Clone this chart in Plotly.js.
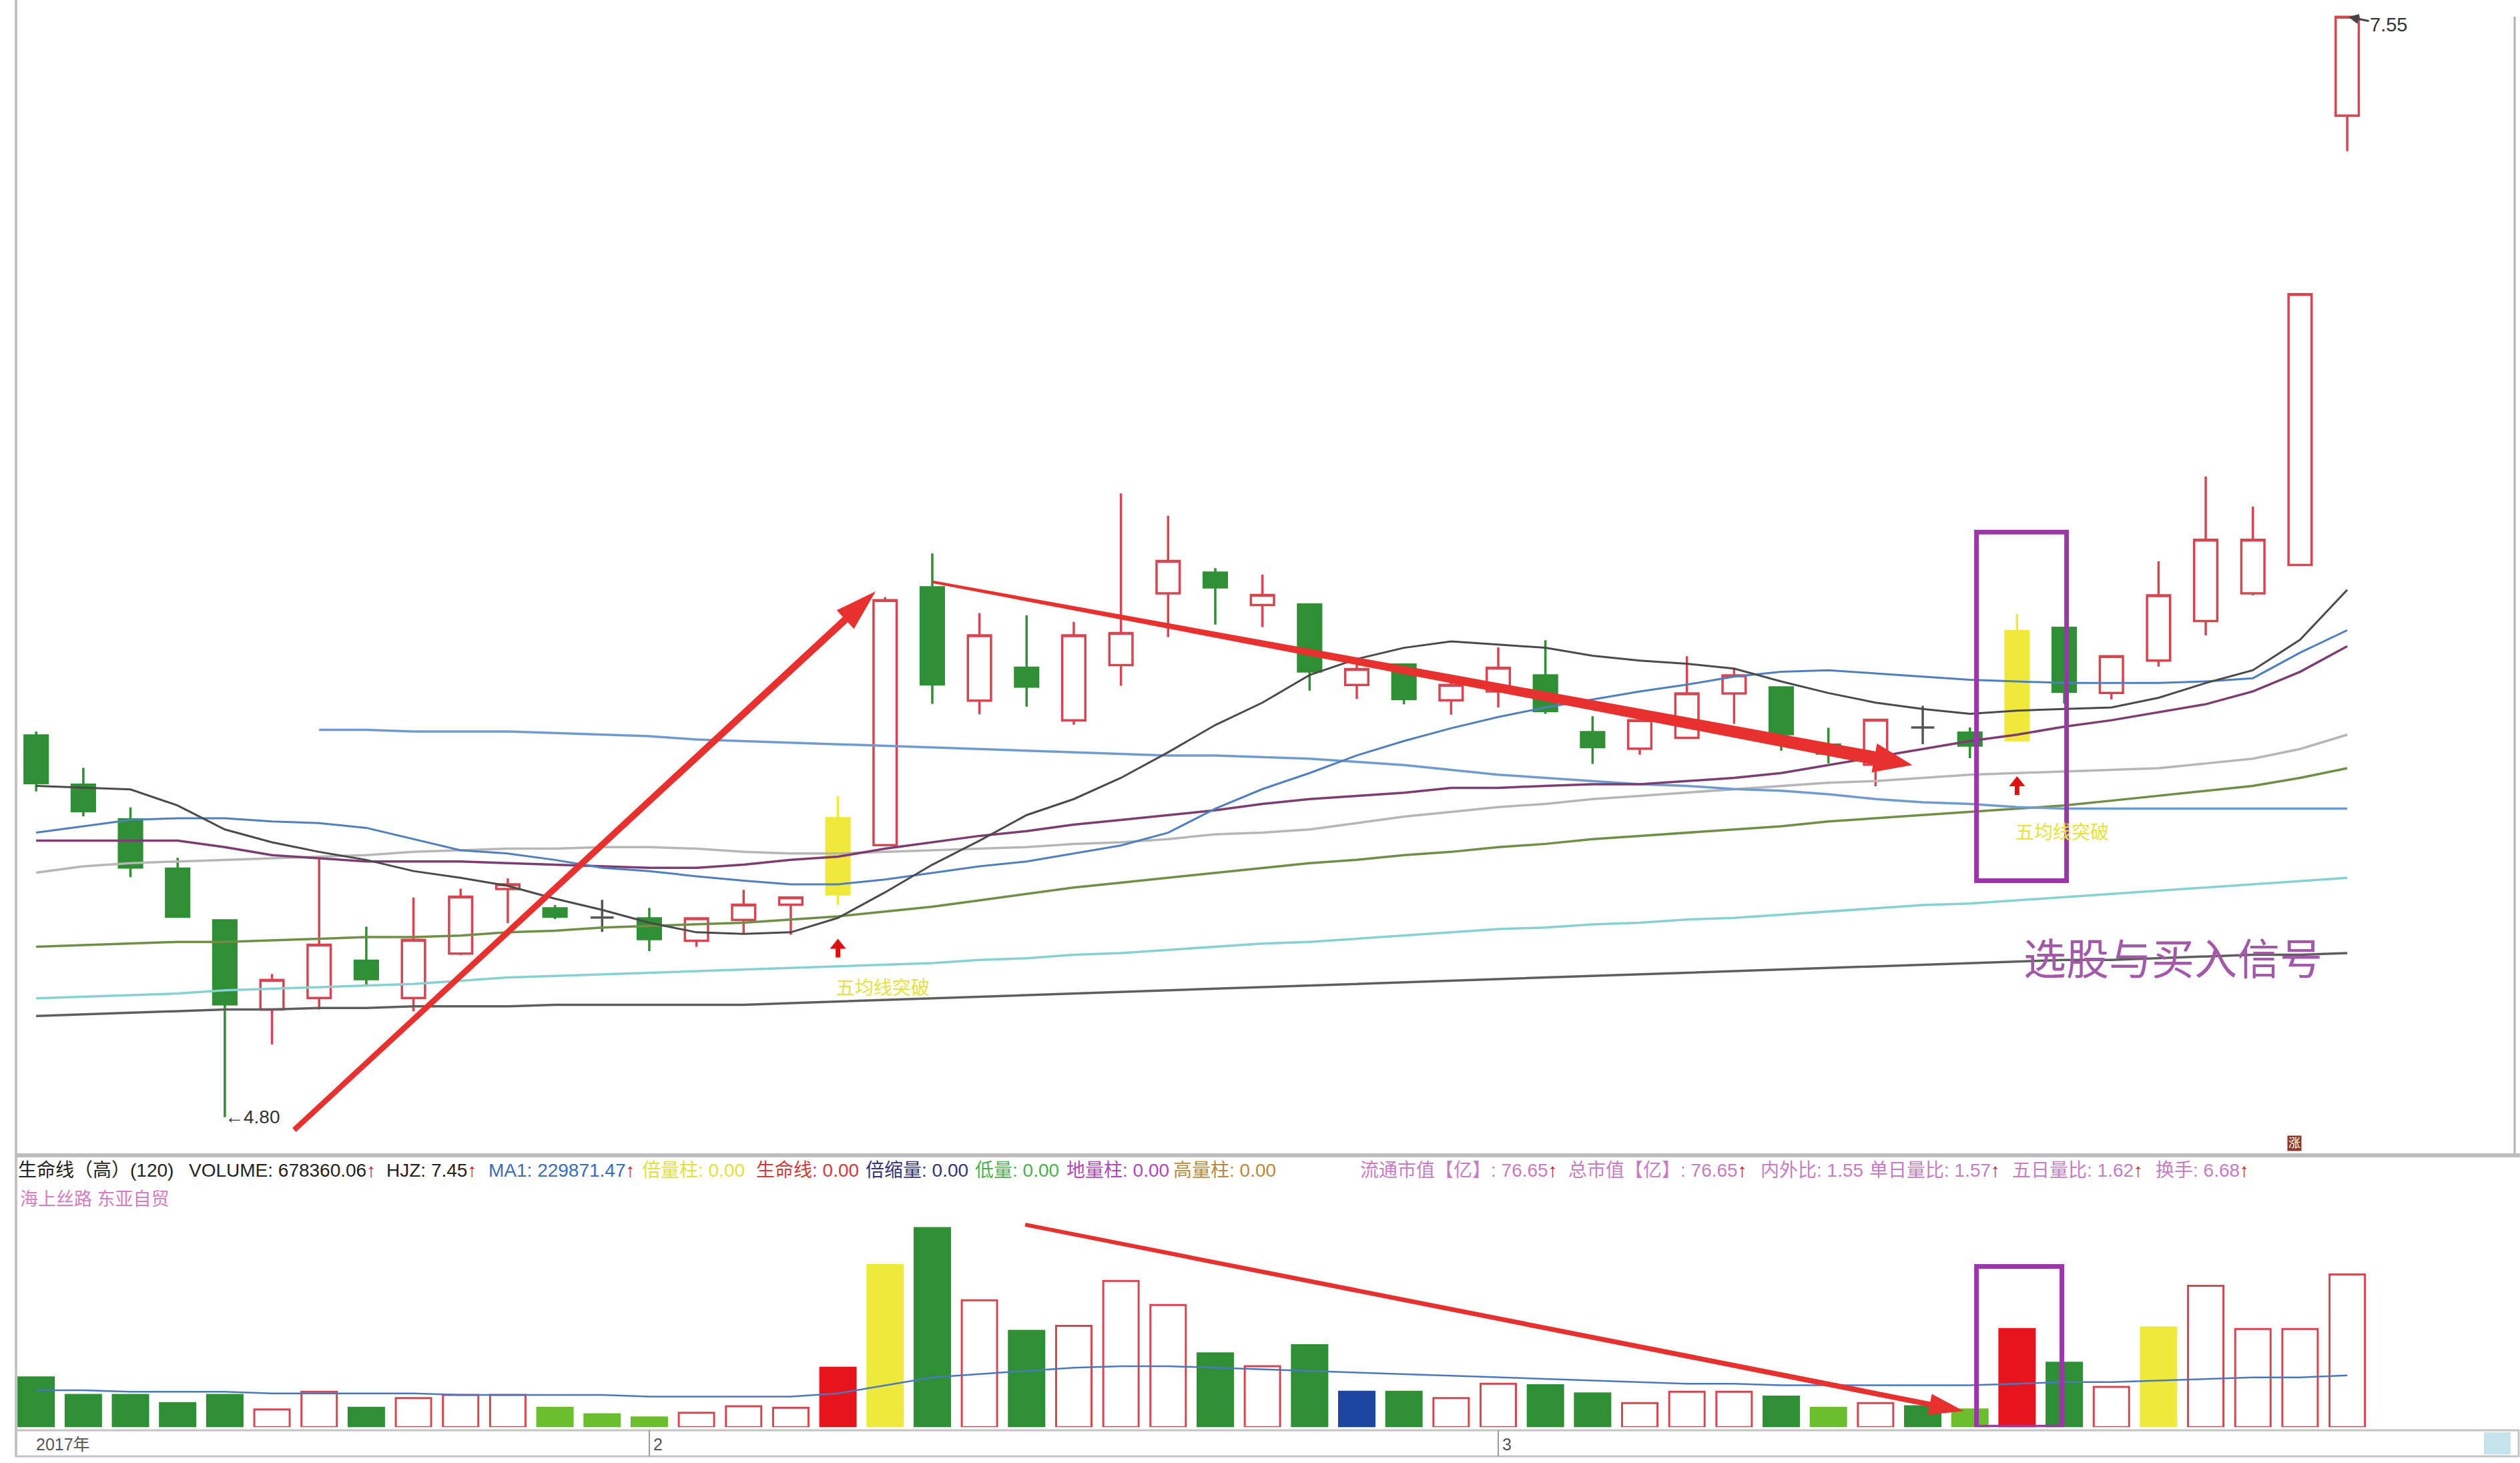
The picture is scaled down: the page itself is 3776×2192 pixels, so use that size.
<!DOCTYPE html>
<html>
<head>
<meta charset="utf-8">
<script src="https://cdn.plot.ly/plotly-3.0.1.min.js"></script>
<style>
  html, body { margin: 0; padding: 0; background: #fff; }
  #chart { width: 3776px; height: 2192px; }
</style>
</head>
<body>
<div id="chart"></div>
<script>
// daily K-line, Jan - Mar 2017 (50 sessions)
const open  = [5.754, 5.631, 5.544, 5.421, 5.292, 5.069, 5.098, 5.191, 5.098, 5.209,
               5.370, 5.322, 5.299, 5.297, 5.241, 5.293, 5.331, 5.357, 5.480, 6.124,
               5.841, 5.923, 5.792, 5.930, 6.109, 6.161, 6.080, 6.081, 5.880, 5.931,
               5.842, 5.864, 5.904, 5.762, 5.721, 5.748, 5.859, 5.874, 5.731, 5.681,
               5.774, 5.761, 5.742, 6.023, 5.860, 5.941, 6.040, 6.109, 6.180, 7.303];
const high  = [5.764, 5.673, 5.574, 5.448, 5.292, 5.158, 5.445, 5.276, 5.349, 5.371,
               5.397, 5.330, 5.343, 5.323, 5.297, 5.368, 5.349, 5.602, 6.100, 6.209,
               6.060, 6.054, 6.038, 6.359, 6.303, 6.172, 6.156, 6.081, 5.949, 5.931,
               5.898, 5.974, 5.992, 5.802, 5.792, 5.952, 5.923, 5.874, 5.773, 5.793,
               5.828, 5.774, 6.058, 6.023, 5.955, 6.189, 6.401, 6.326, 6.857, 7.550];
const low   = [5.614, 5.552, 5.400, 5.298, 4.800, 4.982, 5.069, 5.131, 5.065, 5.205,
               5.285, 5.295, 5.263, 5.215, 5.226, 5.260, 5.256, 5.331, 5.480, 5.833,
               5.807, 5.826, 5.781, 5.878, 6.000, 6.031, 6.025, 5.866, 5.845, 5.832,
               5.806, 5.824, 5.808, 5.683, 5.706, 5.745, 5.783, 5.716, 5.684, 5.627,
               5.732, 5.697, 5.742, 5.834, 5.844, 5.926, 6.004, 6.104, 6.180, 7.214];
const close = [5.635, 5.565, 5.424, 5.301, 5.082, 5.143, 5.231, 5.145, 5.243, 5.351,
               5.382, 5.301, 5.299, 5.245, 5.297, 5.331, 5.349, 5.547, 6.092, 5.882,
               6.004, 5.876, 6.004, 6.010, 6.190, 6.124, 6.105, 5.914, 5.920, 5.845,
               5.880, 5.923, 5.815, 5.725, 5.792, 5.859, 5.904, 5.757, 5.709, 5.793,
               5.774, 5.729, 6.015, 5.863, 5.952, 6.104, 6.243, 6.243, 6.857, 7.550];

// days flagged by the 五均线突破 signal (yellow candles)
const signalDays = [17, 42];

// moving averages drawn on the price panel
const maShort  = [5.628, 5.623, 5.619, 5.579, 5.519, 5.487, 5.463, 5.443, 5.415, 5.398,
                  5.378, 5.346, 5.318, 5.286, 5.262, 5.258, 5.262, 5.298, 5.362, 5.431,
                  5.491, 5.555, 5.595, 5.648, 5.712, 5.780, 5.836, 5.905, 5.945, 5.973,
                  5.989, 5.981, 5.973, 5.953, 5.941, 5.933, 5.921, 5.889, 5.860, 5.836,
                  5.820, 5.808, 5.816, 5.820, 5.824, 5.848, 5.885, 5.917, 5.993, 6.118];
const maBlue   = [5.511, 5.527, 5.543, 5.547, 5.547, 5.539, 5.535, 5.523, 5.495, 5.467,
                  5.459, 5.443, 5.423, 5.415, 5.402, 5.391, 5.382, 5.382, 5.394, 5.411,
                  5.427, 5.439, 5.459, 5.479, 5.511, 5.571, 5.620, 5.660, 5.704, 5.740,
                  5.772, 5.800, 5.824, 5.844, 5.864, 5.881, 5.901, 5.913, 5.917, 5.909,
                  5.901, 5.893, 5.889, 5.885, 5.885, 5.885, 5.889, 5.897, 5.961, 6.017];
const maPurple = [5.491, 5.491, 5.491, 5.491, 5.475, 5.455, 5.447, 5.439, 5.439, 5.439,
                  5.435, 5.431, 5.427, 5.423, 5.423, 5.431, 5.443, 5.451, 5.471, 5.487,
                  5.503, 5.515, 5.531, 5.543, 5.555, 5.567, 5.583, 5.595, 5.603, 5.611,
                  5.623, 5.623, 5.628, 5.632, 5.632, 5.640, 5.648, 5.660, 5.680, 5.700,
                  5.720, 5.740, 5.756, 5.776, 5.792, 5.812, 5.832, 5.864, 5.913, 5.977];
const maGray   = [5.411, 5.427, 5.435, 5.439, 5.443, 5.447, 5.451, 5.455, 5.463, 5.467,
                  5.471, 5.471, 5.475, 5.475, 5.471, 5.463, 5.459, 5.459, 5.463, 5.467,
                  5.471, 5.475, 5.483, 5.487, 5.495, 5.507, 5.511, 5.519, 5.535, 5.551,
                  5.563, 5.575, 5.583, 5.595, 5.603, 5.611, 5.620, 5.628, 5.636, 5.640,
                  5.648, 5.656, 5.660, 5.664, 5.668, 5.672, 5.684, 5.696, 5.720, 5.756];
const maOlive  = [5.226, 5.230, 5.234, 5.238, 5.238, 5.242, 5.246, 5.250, 5.250, 5.254,
                  5.262, 5.266, 5.274, 5.278, 5.282, 5.286, 5.294, 5.302, 5.314, 5.326,
                  5.342, 5.358, 5.374, 5.386, 5.398, 5.411, 5.423, 5.435, 5.443, 5.455,
                  5.463, 5.475, 5.483, 5.495, 5.503, 5.511, 5.519, 5.527, 5.539, 5.547,
                  5.555, 5.563, 5.571, 5.579, 5.591, 5.603, 5.615, 5.628, 5.648, 5.672];
const maLong   = [null, null, null, null, null, null, 5.768, 5.768, 5.764, 5.764,
                  5.764, 5.760, 5.756, 5.752, 5.744, 5.740, 5.736, 5.732, 5.728, 5.724,
                  5.720, 5.716, 5.712, 5.708, 5.704, 5.704, 5.700, 5.696, 5.688, 5.680,
                  5.668, 5.656, 5.648, 5.640, 5.632, 5.628, 5.620, 5.616, 5.607, 5.595,
                  5.587, 5.583, 5.575, 5.571, 5.571, 5.571, 5.571, 5.571, 5.571, 5.571];
const maCyan   = [5.097, 5.101, 5.105, 5.109, 5.117, 5.121, 5.125, 5.129, 5.133, 5.141,
                  5.149, 5.153, 5.157, 5.161, 5.165, 5.169, 5.173, 5.177, 5.181, 5.185,
                  5.193, 5.197, 5.206, 5.210, 5.218, 5.226, 5.234, 5.238, 5.246, 5.254,
                  5.262, 5.270, 5.274, 5.282, 5.286, 5.294, 5.298, 5.306, 5.314, 5.322,
                  5.330, 5.334, 5.342, 5.350, 5.358, 5.366, 5.374, 5.382, 5.390, 5.398];
const maBase   = [5.053, 5.057, 5.061, 5.065, 5.069, 5.069, 5.073, 5.073, 5.077, 5.077,
                  5.077, 5.081, 5.081, 5.081, 5.081, 5.081, 5.085, 5.089, 5.093, 5.097,
                  5.101, 5.105, 5.109, 5.113, 5.117, 5.121, 5.125, 5.129, 5.133, 5.137,
                  5.141, 5.145, 5.149, 5.153, 5.157, 5.161, 5.165, 5.169, 5.173, 5.177,
                  5.181, 5.185, 5.189, 5.193, 5.193, 5.197, 5.201, 5.206, 5.206, 5.210];

// volume panel
const volume = [221000, 143000, 143000, 107000, 143000, 79000, 157000, 86000, 129000, 143000,
                143000, 86000, 57000, 43000, 64000, 93000, 86000, 264000, 721000, 885000,
                564000, 428000, 450000, 650000, 543000, 328000, 271000, 364000, 157000, 157000,
                129000, 193000, 186000, 150000, 107000, 157000, 157000, 136000, 86000, 107000,
                93000, 79000, 436000, 286000, 179000, 443000, 628000, 436000, 436000, 678360.06];
const volKind = ['down','down','down','down','down','up','up','down','up','up',
                 'up','low','low','low','up','up','up','life','double','down',
                 'up','down','up','up','up','down','up','down','shrink','down',
                 'up','up','down','down','up','up','up','down','low','up',
                 'down','low','life','down','up','double','up','up','up','up'];
const volMA1 = [164000, 164000, 157000, 157000, 157000, 150000, 150000, 150000, 150000, 143000,
                143000, 143000, 143000, 136000, 136000, 136000, 136000, 150000, 186000, 221000,
                236000, 250000, 264000, 271000, 271000, 264000, 257000, 250000, 243000, 236000,
                229000, 221000, 214000, 207000, 200000, 193000, 193000, 186000, 186000, 186000,
                186000, 186000, 193000, 200000, 200000, 207000, 214000, 221000, 221000, 229871.47];

// month boundaries on the time axis
const monthStart = [13, 31];
const monthLabel = ['2', '3'];

const W = 3776, H = 2192;
const px = v => v / W;
const py = v => 1 - v / H;

const RED = '#d64550', GREEN = '#2f8f35', YELLOW = '#f0e83a', ARROW = '#e8302e', PURPLE = '#9b36a8';
const FONT = '"Liberation Sans", "Noto Sans CJK SC", sans-serif';

const xRange = [-0.427, 52.55];
const xDomain = [px(24), px(3768)];
const yRange = [4.708, 7.592];
const yDomain = [py(1729), 1];
const y2Range = [0, 1003300];
const y2Domain = [py(2138.3), py(1800)];

// pixels per data unit, used to build the drawn arrows
const sx = (xDomain[1] - xDomain[0]) * W / (xRange[1] - xRange[0]);
const sy = (yDomain[1] - yDomain[0]) * H / (yRange[1] - yRange[0]);
const sy2 = (y2Domain[1] - y2Domain[0]) * H / (y2Range[1] - y2Range[0]);

// tapered arrow polygon: widths and head sizes in pixels
function arrowPath(x0, y0, x1, y1, yScale, w0, w1, headLen, headW) {
  const X0 = x0 * sx, Y0 = y0 * yScale, X1 = x1 * sx, Y1 = y1 * yScale;
  const L = Math.hypot(X1 - X0, Y1 - Y0);
  const ux = (X1 - X0) / L, uy = (Y1 - Y0) / L;
  const nx = -uy, ny = ux;
  const BX = X1 - ux * headLen, BY = Y1 - uy * headLen;
  const pts = [
    [X0 + nx * w0 / 2, Y0 + ny * w0 / 2],
    [BX + nx * w1 / 2, BY + ny * w1 / 2],
    [BX + nx * headW / 2, BY + ny * headW / 2],
    [X1, Y1],
    [BX - nx * headW / 2, BY - ny * headW / 2],
    [BX - nx * w1 / 2, BY - ny * w1 / 2],
    [X0 - nx * w0 / 2, Y0 - ny * w0 / 2]
  ];
  return 'M' + pts.map(p => (p[0] / sx).toFixed(4) + ',' + (p[1] / yScale).toFixed(6)).join(' L') + ' Z';
}

const days = open.map((_, i) => i);
const isSignal = i => signalDays.includes(i);
const isDoji = i => open[i] === close[i];

function pick(test) {
  const idx = days.filter(test);
  return {
    x: idx,
    open: idx.map(i => open[i]),
    high: idx.map(i => high[i]),
    low: idx.map(i => low[i]),
    close: idx.map(i => close[i])
  };
}

const candleBase = { type: 'candlestick', xaxis: 'x', yaxis: 'y', whiskerwidth: 0, hoverinfo: 'skip' };

const traces = [];

// moving averages first, candles drawn over them
const maLines = [
  [maBase, '#5e5e5e', 3.5],
  [maCyan, '#86d2d2', 3.5],
  [maOlive, '#6e8f45', 3.5],
  [maGray, '#b6b6b6', 3.5],
  [maLong, '#6f9bd0', 3.5],
  [maPurple, '#7d3c72', 3.5],
  [maBlue, '#4f7fbf', 3],
  [maShort, '#4a4a4a', 3]
];
maLines.forEach(([vals, color, width]) => {
  traces.push({
    type: 'scatter', mode: 'lines', x: days, y: vals, xaxis: 'x', yaxis: 'y',
    line: { color: color, width: width }, hoverinfo: 'skip', connectgaps: false
  });
});

traces.push(Object.assign({}, candleBase, pick(i => !isSignal(i) && !isDoji(i)), {
  increasing: { line: { color: RED, width: 3.5 }, fillcolor: '#ffffff' },
  decreasing: { line: { color: GREEN, width: 3.5 }, fillcolor: GREEN }
}));
traces.push(Object.assign({}, candleBase, pick(i => isSignal(i)), {
  increasing: { line: { color: YELLOW, width: 3.5 }, fillcolor: YELLOW },
  decreasing: { line: { color: YELLOW, width: 3.5 }, fillcolor: YELLOW }
}));
traces.push(Object.assign({}, candleBase, pick(i => isDoji(i)), {
  increasing: { line: { color: '#555555', width: 3.5 }, fillcolor: '#555555' },
  decreasing: { line: { color: '#555555', width: 3.5 }, fillcolor: '#555555' }
}));

// volume bars
const kindFill = { down: GREEN, up: '#ffffff', low: '#6cbf2c', life: '#e8141c', double: '#eeea3c', shrink: '#1c46a0' };
const kindLine = { down: GREEN, up: RED, low: '#6cbf2c', life: '#e8141c', double: '#eeea3c', shrink: '#1c46a0' };
traces.push({
  type: 'bar', x: days, y: volume, xaxis: 'x2', yaxis: 'y2',
  marker: {
    color: volKind.map(k => kindFill[k]),
    line: { color: volKind.map(k => kindLine[k]), width: 3 }
  },
  hoverinfo: 'skip'
});
traces.push({
  type: 'scatter', mode: 'lines', x: days, y: volMA1, xaxis: 'x2', yaxis: 'y2',
  line: { color: '#4a78c0', width: 2.5 }, hoverinfo: 'skip'
});

// info bar
const up = '<span style="color:#d01818">↑</span>';
const last = volume.length - 1;
const infoRow = [
  [25, '生命线（高）(120)', '#222222'],
  [281, 'VOLUME: ' + volume[last].toFixed(2) + up, '#222222'],
  [577, 'HJZ: 7.45' + up, '#222222'],
  [730, 'MA1: ' + volMA1[last].toFixed(2) + up, '#3a6cb8'],
  [960, '倍量柱: 0.00', '#e4e03a'],
  [1131, '生命线: 0.00', '#d03a3a'],
  [1295, '倍缩量: 0.00', '#33337a'],
  [1459, '低量: 0.00', '#4cb04c'],
  [1596, '地量柱: 0.00', '#b048b8'],
  [1756, '高量柱: 0.00', '#b88a3a'],
  [2036, '流通市值【亿】: 76.65' + up, '#c77cc4'],
  [2348, '总市值【亿】: 76.65' + up, '#c77cc4'],
  [2636, '内外比: 1.55', '#c77cc4'],
  [2799, '单日量比: 1.57' + up, '#c77cc4'],
  [3013, '五日量比: 1.62' + up, '#c77cc4'],
  [3228, '换手: 6.68' + up, '#c77cc4']
];

const annotations = infoRow.map(([x, text, color]) => ({
  xref: 'paper', yref: 'paper', x: px(x), y: py(1753), xanchor: 'left', yanchor: 'middle',
  text: text, showarrow: false, font: { family: FONT, size: 28, color: color }
}));

annotations.push(
  { xref: 'paper', yref: 'paper', x: px(28), y: py(1797), xanchor: 'left', yanchor: 'middle',
    text: '海上丝路 东亚自贸', showarrow: false, font: { family: FONT, size: 27, color: '#d77cc0' } },
  // price extremes
  { xref: 'x', yref: 'y', x: 4, y: low[4], xanchor: 'left', yanchor: 'middle', xshift: -2,
    text: '←' + low[4].toFixed(2), showarrow: false, font: { family: FONT, size: 28, color: '#333333' } },
  { xref: 'x', yref: 'y', x: 49, y: high[49], ax: 62, ay: 12, text: high[49].toFixed(2),
    showarrow: true, arrowhead: 2, arrowsize: 1, arrowwidth: 3, arrowcolor: '#444444', standoff: 2,
    font: { family: FONT, size: 29, color: '#333333' } },
  // signal captions
  { xref: 'x', yref: 'y', x: signalDays[0] + 0.95, y: 5.122, text: '五均线突破', showarrow: false,
    font: { family: FONT, size: 28, color: '#e8e23a' } },
  { xref: 'x', yref: 'y', x: signalDays[1] + 0.95, y: 5.511, text: '五均线突破', showarrow: false,
    font: { family: FONT, size: 28, color: '#e8e23a' } },
  { xref: 'paper', yref: 'paper', x: px(3256), y: py(1438), xanchor: 'center', yanchor: 'middle',
    text: '选股与买入信号', showarrow: false, font: { family: FONT, size: 64, color: '#a458aa' } },
  // time axis
  { xref: 'paper', yref: 'paper', x: px(52), y: py(2164), xanchor: 'left', yanchor: 'middle',
    text: '2017年', showarrow: false, font: { family: FONT, size: 25, color: '#555555' } },
  { xref: 'paper', yref: 'paper', x: px(3438), y: py(1713), xanchor: 'center', yanchor: 'middle',
    text: '涨', showarrow: false, font: { family: FONT, size: 18, color: '#ffffff' }, bgcolor: '#8b3a2a' }
);
monthStart.forEach((d, k) => {
  annotations.push({ xref: 'x2', yref: 'paper', x: d, y: py(2164), xanchor: 'left', yanchor: 'middle',
    xshift: 4, text: monthLabel[k], showarrow: false, font: { family: FONT, size: 25, color: '#555555' } });
});

const noLine = { width: 0 };
const shapes = [
  // frame
  { type: 'line', xref: 'paper', yref: 'paper', x0: px(24), x1: px(24), y0: py(0), y1: py(2182),
    line: { color: '#c4c4c4', width: 4 } },
  { type: 'line', xref: 'paper', yref: 'paper', x0: px(3768), x1: px(3768), y0: py(25), y1: py(1729),
    line: { color: '#b0b0b0', width: 3 } },
  { type: 'line', xref: 'paper', yref: 'paper', x0: px(24), x1: 1, y0: py(1731), y1: py(1731),
    line: { color: '#bdbdbd', width: 6 } },
  { type: 'rect', xref: 'paper', yref: 'paper', x0: px(24), x1: px(3774), y0: py(2143), y1: py(2182),
    line: { color: '#c4c4c4', width: 3 }, fillcolor: 'rgba(0,0,0,0)' },
  { type: 'rect', xref: 'paper', yref: 'paper', x0: px(3722), x1: px(3762), y0: py(2146), y1: py(2179),
    line: noLine, fillcolor: '#c6e4ec' },
  // selection boxes
  { type: 'rect', xref: 'x', yref: 'y', x0: 41.14, x1: 43.05, y0: 5.391, y1: 6.262,
    line: { color: PURPLE, width: 7 }, fillcolor: 'rgba(0,0,0,0)' },
  { type: 'rect', xref: 'x2', yref: 'y2', x0: 41.14, x1: 42.95, y0: 0, y1: 714100,
    line: { color: PURPLE, width: 7 }, fillcolor: 'rgba(0,0,0,0)' },
  // hand-drawn trend arrows
  { type: 'path', xref: 'x', yref: 'y', path: arrowPath(5.47, 4.768, 17.80, 6.114, sy, 8, 11, 62, 38),
    fillcolor: ARROW, line: noLine },
  { type: 'path', xref: 'x', yref: 'y', path: arrowPath(19.0, 6.138, 39.78, 5.680, sy, 4, 20, 58, 44),
    fillcolor: ARROW, line: noLine },
  { type: 'path', xref: 'x2', yref: 'y2', path: arrowPath(20.97, 899800, 40.87, 71400, sy2, 6, 8, 52, 32),
    fillcolor: ARROW, line: noLine },
  // signal arrows under the yellow candles
  { type: 'path', xref: 'x', yref: 'y', path: arrowPath(signalDays[0], 5.246 - 28 / sy, signalDays[0], 5.246, sy, 7, 7, 15, 24),
    fillcolor: '#e01010', line: noLine },
  { type: 'path', xref: 'x', yref: 'y', path: arrowPath(signalDays[1], 5.652 - 28 / sy, signalDays[1], 5.652, sy, 7, 7, 15, 24),
    fillcolor: '#e01010', line: noLine }
];
monthStart.forEach(d => {
  shapes.push({ type: 'line', xref: 'x2', yref: 'paper', x0: d, x1: d, y0: py(2143), y1: py(2182),
    line: { color: '#9a9a9a', width: 2 } });
});

const layout = {
  width: W, height: H,
  margin: { l: 0, r: 0, t: 0, b: 0 },
  paper_bgcolor: '#ffffff', plot_bgcolor: '#ffffff',
  showlegend: false, hovermode: false,
  bargap: 0.25, boxgap: 0.3,
  xaxis: { domain: xDomain, range: xRange, visible: false, rangeslider: { visible: false }, anchor: 'y' },
  yaxis: { domain: yDomain, range: yRange, visible: false, anchor: 'x' },
  xaxis2: { domain: xDomain, range: xRange, visible: false, anchor: 'y2' },
  yaxis2: { domain: y2Domain, range: y2Range, visible: false, anchor: 'x2' },
  annotations: annotations,
  shapes: shapes
};

Plotly.newPlot('chart', traces, layout, { displayModeBar: false, staticPlot: true });
</script>
</body>
</html>
